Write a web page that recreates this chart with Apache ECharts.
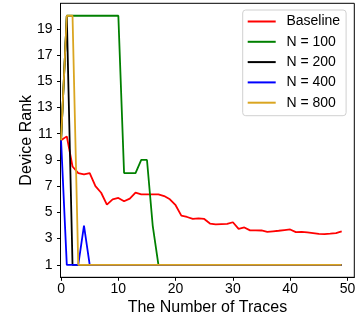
<!DOCTYPE html>
<html>
<head>
<meta charset="utf-8">
<script src="https://cdn.jsdelivr.net/npm/echarts@6/dist/echarts.min.js"></script>
<style>
  html, body { margin: 0; padding: 0; background: #fff; }
  #chart { width: 364px; height: 327px; }
</style>
</head>
<body>
<div id="chart"></div>
<script>
// number of traces 0..49
const traces = Array.from({length: 50}, (_, i) => i);

const baseline = [10.5, 10.8, 8.5, 8.0, 7.9, 8.0, 7.0, 6.5, 5.6, 6.0,
  6.1, 5.85, 6.05, 6.5, 6.38, 6.38, 6.38, 6.38, 6.25, 6.0,
  5.55, 4.75, 4.65, 4.5, 4.55, 4.5, 4.15, 4.08, 4.1, 4.12,
  4.25, 3.75, 3.85, 3.63, 3.63, 3.62, 3.52, 3.56, 3.6, 3.65,
  3.7, 3.5, 3.52, 3.47, 3.42, 3.36, 3.35, 3.38, 3.42, 3.55];
const n100 = [10.5, 20, 20, 20, 20, 20, 20, 20, 20, 20, 20, 8, 8, 8, 9, 9, 4,
  1, 1, 1, 1, 1, 1, 1, 1, 1, 1, 1, 1, 1, 1, 1, 1, 1, 1, 1, 1, 1, 1, 1, 1, 1, 1, 1, 1, 1, 1, 1, 1, 1];
const n200 = [10.5, 20, 1, 1, 1, 1, 1, 1, 1, 1, 1, 1, 1, 1, 1, 1, 1, 1, 1, 1, 1, 1, 1, 1, 1,
  1, 1, 1, 1, 1, 1, 1, 1, 1, 1, 1, 1, 1, 1, 1, 1, 1, 1, 1, 1, 1, 1, 1, 1, 1];
const n400 = [10.5, 1, 1, 1, 4, 1, 1, 1, 1, 1, 1, 1, 1, 1, 1, 1, 1, 1, 1, 1, 1, 1, 1, 1, 1,
  1, 1, 1, 1, 1, 1, 1, 1, 1, 1, 1, 1, 1, 1, 1, 1, 1, 1, 1, 1, 1, 1, 1, 1, 1];
const n800 = [10.5, 20, 20, 1, 1, 1, 1, 1, 1, 1, 1, 1, 1, 1, 1, 1, 1, 1, 1, 1, 1, 1, 1, 1, 1,
  1, 1, 1, 1, 1, 1, 1, 1, 1, 1, 1, 1, 1, 1, 1, 1, 1, 1, 1, 1, 1, 1, 1, 1, 1];

const xTicks = [0, 10, 20, 30, 40, 50];
const yTicks = [1, 3, 5, 7, 9, 11, 13, 15, 17, 19];

const font = 'Liberation Sans, Arial, Helvetica, sans-serif';

const chart = echarts.init(document.getElementById('chart'));

function mk(name, ys, color) {
  return {
    name: name,
    type: 'line',
    data: traces.map((x, i) => [x, ys[i]]),
    symbol: 'none',
    color: color,
    lineStyle: {color: color, width: 1.8},
    animation: false
  };
}

const option = {
  animation: false,
  grid: {
    left: 60.5,
    right: 9.7,
    top: 3.3,
    bottom: 49.7,
    show: true,
    borderColor: '#000',
    borderWidth: 1,
    containLabel: false,
    outerBoundsMode: 'none'
  },
  legend: {
    left: 242.7,
    top: 10,
    orient: 'vertical',
    icon: 'rect',
    itemWidth: 28,
    itemHeight: 2,
    itemGap: 4.3,
    padding: [3.5, 6, 5, 5],
    borderColor: '#d0d0d0',
    borderWidth: 1,
    borderRadius: 3,
    backgroundColor: 'rgba(255,255,255,0.85)',
    textStyle: {
      fontFamily: font,
      fontSize: 14,
      lineHeight: 16,
      color: '#000',
      padding: [0, 0, 0, 5.7]
    },
    data: ['Baseline', 'N = 100', 'N = 200', 'N = 400', 'N = 800']
  },
  xAxis: {
    type: 'value',
    min: -0.1,
    max: 51.2,
    name: 'The Number of Traces',
    nameLocation: 'middle',
    nameGap: 22,
    nameMoveOverlap: false,
    nameTextStyle: {fontFamily: font, fontSize: 16, color: '#000'},
    axisLine: {show: true, onZero: false, lineStyle: {color: '#000', width: 1}},
    axisTick: {show: true, inside: false, length: 3.5, customValues: xTicks, lineStyle: {color: '#000'}},
    axisLabel: {fontFamily: font, fontSize: 14, color: '#000', margin: 5, customValues: xTicks},
    splitLine: {show: false}
  },
  yAxis: {
    type: 'value',
    min: 0.05,
    max: 20.95,
    name: 'Device Rank',
    nameLocation: 'middle',
    nameGap: 26,
    nameMoveOverlap: false,
    nameTextStyle: {fontFamily: font, fontSize: 16, color: '#000'},
    axisLine: {show: true, onZero: false, lineStyle: {color: '#000', width: 1}},
    axisTick: {show: true, inside: false, length: 3.5, customValues: yTicks, lineStyle: {color: '#000'}},
    axisLabel: {fontFamily: font, fontSize: 14, color: '#000', margin: 8, customValues: yTicks},
    splitLine: {show: false}
  },
  series: [
    mk('Baseline', baseline, '#ff0000'),
    mk('N = 100', n100, '#008000'),
    mk('N = 200', n200, '#000000'),
    mk('N = 400', n400, '#0000ff'),
    mk('N = 800', n800, '#daa520')
  ]
};

chart.setOption(option);
</script>
</body>
</html>
